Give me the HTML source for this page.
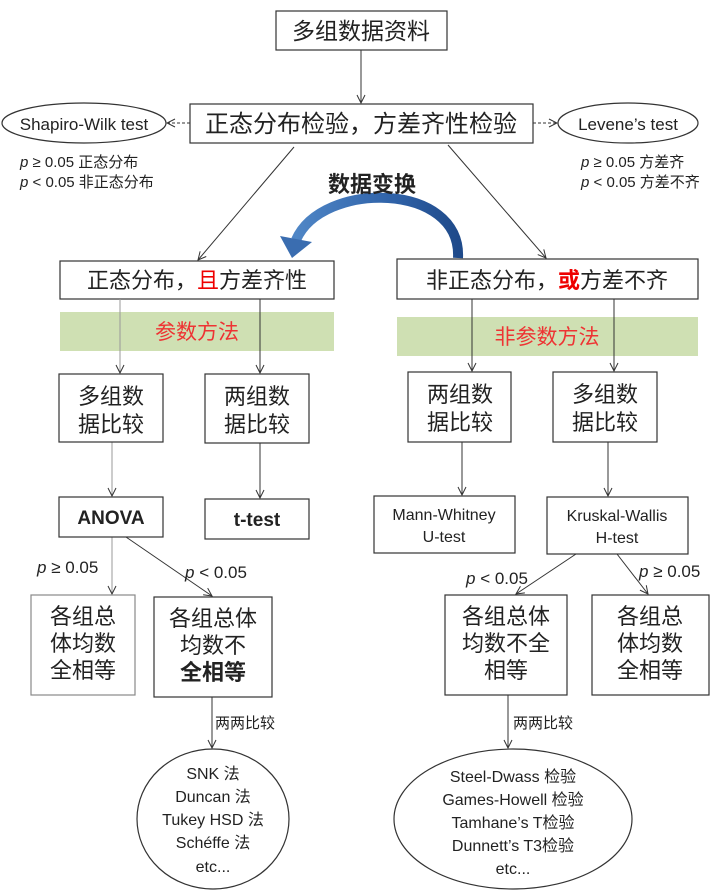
<!DOCTYPE html>
<html><head><meta charset="utf-8"><style>
html,body{margin:0;padding:0;background:#fff;}
svg{display:block;}
text{font-family:"Liberation Sans","Noto Sans CJK SC",sans-serif;fill:#222;}
</style></head><body>
<svg width="716" height="891" viewBox="0 0 716 891" xmlns="http://www.w3.org/2000/svg">
<defs>
<marker id="a" markerWidth="10" markerHeight="10" refX="9" refY="5" orient="auto" markerUnits="userSpaceOnUse">
<path d="M1,1 L9,5 L1,9" fill="none" stroke="#333" stroke-width="1"/></marker>
<linearGradient id="g" x1="0" y1="0" x2="1" y2="0"><stop offset="0" stop-color="#4f86c6"/><stop offset="0.6" stop-color="#2f62a8"/><stop offset="1" stop-color="#1f4a8a"/></linearGradient>
</defs>
<g fill="#fff" stroke="#333" stroke-width="1.2">
<rect x="276" y="11" width="171" height="39"/>
<rect x="190" y="104" width="343" height="39"/>
<ellipse cx="84" cy="123" rx="82" ry="20"/>
<ellipse cx="628" cy="123" rx="70" ry="20"/>
<rect x="60" y="261" width="274" height="38"/>
<rect x="397" y="259" width="301" height="40"/>
</g>
<rect x="60" y="312" width="274" height="39" fill="#cfe0b3"/>
<rect x="397" y="317" width="301" height="39" fill="#cfe0b3"/>
<g fill="none" stroke="#333" stroke-width="1">
<line x1="361" y1="50" x2="361" y2="103" marker-end="url(#a)"/>
<line x1="190" y1="123" x2="167" y2="123" stroke-dasharray="3,2" marker-end="url(#a)"/>
<line x1="533" y1="123" x2="557" y2="123" stroke-dasharray="3,2" marker-end="url(#a)"/>
<line x1="294" y1="147" x2="198" y2="260" marker-end="url(#a)"/>
<line x1="448" y1="145" x2="546" y2="258" marker-end="url(#a)"/>
<line x1="120" y1="299" x2="120" y2="373" stroke="#999" marker-end="url(#a)"/>
<line x1="260" y1="299" x2="260" y2="373" marker-end="url(#a)"/>
<line x1="472" y1="299" x2="472" y2="371" marker-end="url(#a)"/>
<line x1="614" y1="299" x2="614" y2="371" marker-end="url(#a)"/>
<line x1="112" y1="442" x2="112" y2="496" stroke="#999" marker-end="url(#a)"/>
<line x1="260" y1="443" x2="260" y2="498" marker-end="url(#a)"/>
<line x1="462" y1="442" x2="462" y2="495" marker-end="url(#a)"/>
<line x1="608" y1="442" x2="608" y2="496" marker-end="url(#a)"/>
<line x1="112" y1="537" x2="112" y2="594" stroke="#999" marker-end="url(#a)"/>
<line x1="126" y1="537" x2="212" y2="596" marker-end="url(#a)"/>
<line x1="576" y1="554" x2="516" y2="594" marker-end="url(#a)"/>
<line x1="617" y1="554" x2="648" y2="594" marker-end="url(#a)"/>
<line x1="212" y1="697" x2="212" y2="748" marker-end="url(#a)"/>
<line x1="508" y1="695" x2="508" y2="748" marker-end="url(#a)"/>
</g>
<g fill="#fff" stroke="#333" stroke-width="1.2">
<rect x="59" y="374" width="104" height="68"/>
<rect x="205" y="374" width="104" height="69"/>
<rect x="408" y="372" width="103" height="70"/>
<rect x="553" y="372" width="104" height="70"/>
<rect x="59" y="497" width="104" height="40"/>
<rect x="205" y="499" width="104" height="40"/>
<rect x="374" y="496" width="141" height="57"/>
<rect x="547" y="497" width="141" height="57"/>
<rect x="31" y="595" width="104" height="100" stroke="#888"/>
<rect x="154" y="597" width="118" height="100"/>
<rect x="445" y="595" width="122" height="100"/>
<rect x="592" y="595" width="117" height="100"/>
<ellipse cx="213" cy="819" rx="76" ry="70"/>
<ellipse cx="513" cy="819" rx="119" ry="70"/>
</g>
<path d="M458,258 C462,182 322,180 296,240" fill="none" stroke="url(#g)" stroke-width="10"/>
<polygon points="280,236 312,242 292,258" fill="#3a6db0"/>
<g text-anchor="middle">
<text x="361" y="39" font-size="23">多组数据资料</text>
<text x="361" y="132" font-size="24">正态分布检验，方差齐性检验</text>
<text x="84" y="130" font-size="17">Shapiro-Wilk test</text>
<text x="628" y="130" font-size="17">Levene’s test</text>
<text x="372" y="192" font-size="22" font-weight="bold">数据变换</text>
<text x="197" y="288" font-size="22">正态分布，<tspan fill="#e00">且</tspan>方差齐性</text>
<text x="547" y="288" font-size="22">非正态分布，<tspan fill="#e00" font-weight="bold">或</tspan>方差不齐</text>
<text x="197" y="339" font-size="21" style="fill:#e33">参数方法</text>
<text x="547" y="344" font-size="21" style="fill:#e33">非参数方法</text>
<g font-size="22">
<text x="111" y="404">多组数</text><text x="111" y="432">据比较</text>
<text x="257" y="404">两组数</text><text x="257" y="432">据比较</text>
<text x="460" y="402">两组数</text><text x="460" y="430">据比较</text>
<text x="605" y="402">多组数</text><text x="605" y="430">据比较</text>
<text x="83" y="624" fill="#444">各组总</text><text x="83" y="651">体均数</text><text x="83" y="678">全相等</text>
<text x="213" y="626">各组总体</text><text x="213" y="653">均数不</text><text x="213" y="680" font-weight="bold">全相等</text>
<text x="506" y="624">各组总体</text><text x="506" y="651">均数不全</text><text x="506" y="678">相等</text>
<text x="650" y="624">各组总</text><text x="650" y="651">体均数</text><text x="650" y="678">全相等</text>
</g>
<text x="111" y="524" font-size="19" font-weight="bold">ANOVA</text>
<text x="257" y="526" font-size="19" font-weight="bold">t-test</text>
<text x="444" y="520" font-size="16">Mann-Whitney</text><text x="444" y="542" font-size="16">U-test</text>
<text x="617" y="521" font-size="16">Kruskal-Wallis</text><text x="617" y="543" font-size="16">H-test</text>
<g font-size="16">
<text x="213" y="779">SNK 法</text><text x="213" y="802">Duncan 法</text><text x="213" y="825">Tukey HSD 法</text><text x="213" y="848">Schéffe 法</text><text x="213" y="872">etc...</text>
<text x="513" y="782">Steel-Dwass 检验</text><text x="513" y="805">Games-Howell 检验</text><text x="513" y="828">Tamhane’s T检验</text><text x="513" y="851">Dunnett’s T3检验</text><text x="513" y="874">etc...</text>
</g>
</g>
<g font-size="15">
<text x="20" y="167"><tspan font-style="italic">p</tspan> ≥ 0.05 正态分布</text>
<text x="20" y="187"><tspan font-style="italic">p</tspan> &lt; 0.05 非正态分布</text>
<text x="581" y="167"><tspan font-style="italic">p</tspan> ≥ 0.05 方差齐</text>
<text x="581" y="187"><tspan font-style="italic">p</tspan> &lt; 0.05 方差不齐</text>
<text x="215" y="728" font-size="15">两两比较</text>
<text x="513" y="728" font-size="15">两两比较</text>
</g>
<g font-size="17">
<text x="37" y="573"><tspan font-style="italic">p</tspan> ≥ 0.05</text>
<text x="185" y="578"><tspan font-style="italic">p</tspan> &lt; 0.05</text>
<text x="466" y="584"><tspan font-style="italic">p</tspan> &lt; 0.05</text>
<text x="639" y="577"><tspan font-style="italic">p</tspan> ≥ 0.05</text>
</g>
</svg>
</body></html>
